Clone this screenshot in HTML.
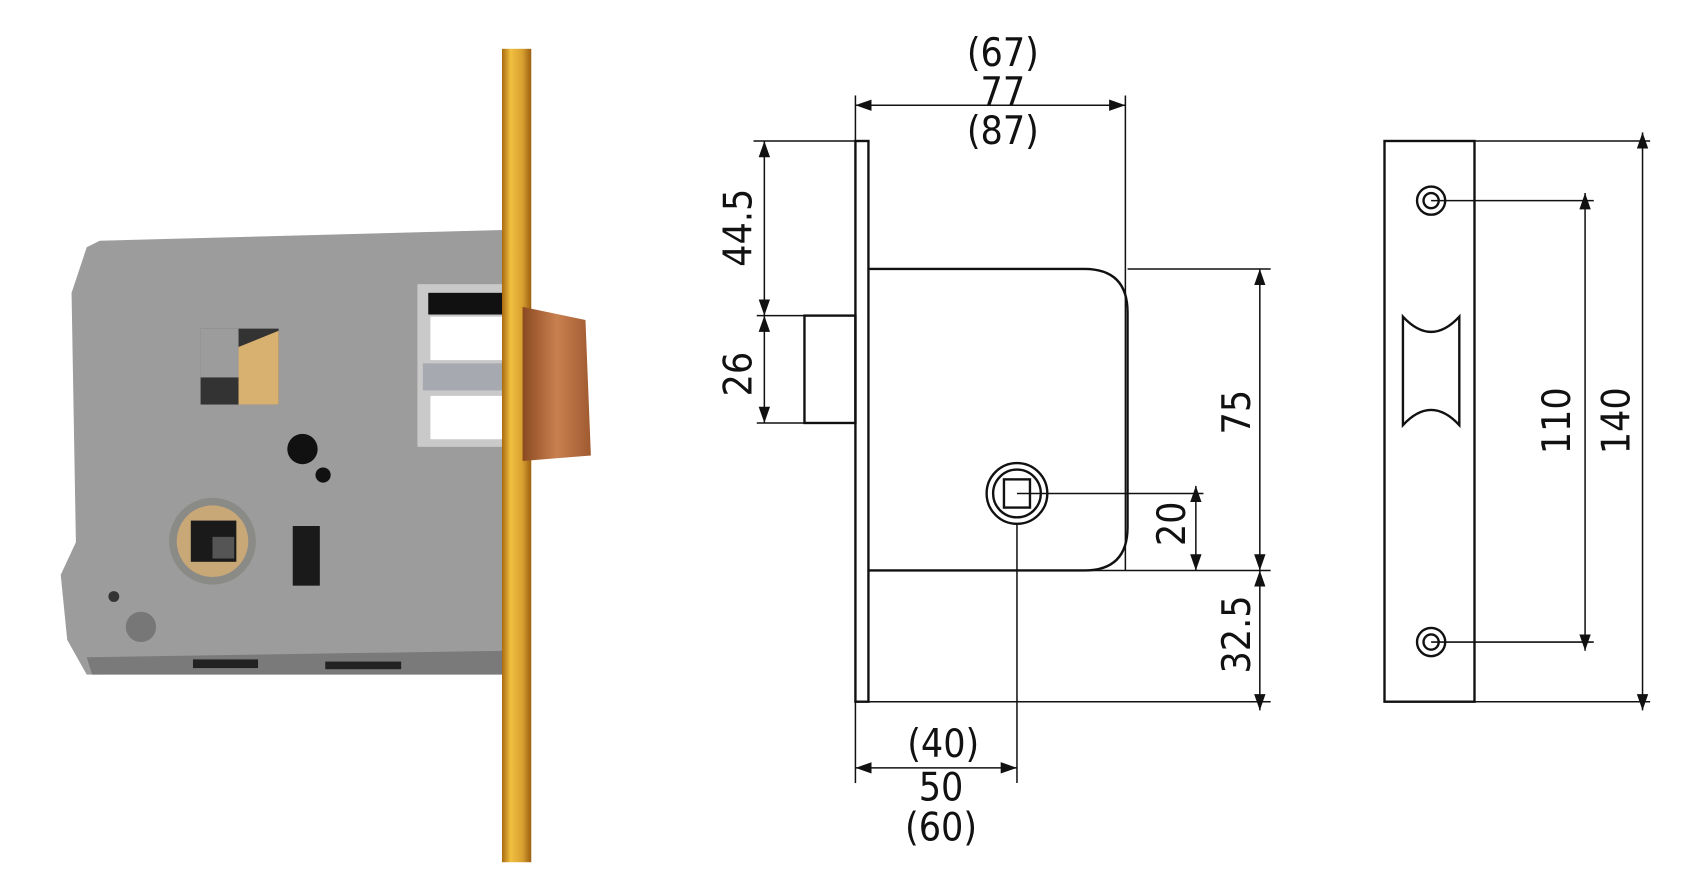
<!DOCTYPE html>
<html><head><meta charset="utf-8"><style>
html,body{margin:0;padding:0;background:#fff;}
svg{display:block;}
text{font-family:"DejaVu Sans Condensed","DejaVu Sans","Liberation Sans",sans-serif;fill:#111;}
</style></head><body>
<svg width="1700" height="885" viewBox="0 0 1568 816" preserveAspectRatio="none" xmlns="http://www.w3.org/2000/svg">
<defs>
<linearGradient id="gold" x1="0" x2="1"><stop offset="0" stop-color="#a86a10"/><stop offset="0.3" stop-color="#f0c040"/><stop offset="0.7" stop-color="#d8a030"/><stop offset="1" stop-color="#9a6010"/></linearGradient>
<linearGradient id="cop" x1="0" x2="1"><stop offset="0" stop-color="#8a4a20"/><stop offset="0.5" stop-color="#c98050"/><stop offset="1" stop-color="#a05a30"/></linearGradient>
<marker id="a" viewBox="0 0 10 10" refX="10" refY="5" markerWidth="15" markerHeight="15" orient="auto-start-reverse" markerUnits="userSpaceOnUse"><path d="M0,1.5 L10,5 L0,8.5 Z" fill="#111"/></marker>
</defs>
<!-- photo -->
<path d="M92,222 L468,212 L468,620 L80,622 L62,590 L56,530 L70,500 L66,270 L80,228 Z" fill="#9c9c9c"/>
<path d="M80,606 L468,600 L468,622 L85,622 Z" fill="#7a7a7a"/>
<rect x="178" y="608" width="60" height="8" fill="#222"/><rect x="300" y="610" width="70" height="7" fill="#222"/>
<rect x="385" y="262" width="83" height="150" fill="#c9c9c9"/>
<rect x="395" y="270" width="73" height="20" fill="#111"/>
<rect x="397" y="292" width="70" height="40" fill="#fff"/>
<rect x="397" y="365" width="70" height="40" fill="#fff"/>
<rect x="390" y="335" width="78" height="25" fill="#a6aab0"/>
<rect x="185" y="303" width="72" height="70" fill="#333"/>
<path d="M220,320 L257,305 L257,373 L220,373 Z" fill="#d8b070"/>
<rect x="185" y="303" width="35" height="45" fill="#9c9c9c"/>
<circle cx="279" cy="414" r="14" fill="#111"/><circle cx="298" cy="438" r="7" fill="#111"/>
<circle cx="196" cy="499" r="40" fill="#8a8a86"/><circle cx="196" cy="499" r="33" fill="#c9a878"/>
<rect x="176" y="480" width="42" height="38" fill="#1a1a1a"/><rect x="196" y="495" width="20" height="20" fill="#555"/>
<rect x="270" y="485" width="25" height="55" fill="#1a1a1a"/>
<circle cx="130" cy="578" r="14" fill="#777"/><circle cx="105" cy="550" r="5" fill="#333"/>
<rect x="463" y="45" width="27" height="750" fill="url(#gold)"/>
<path d="M482,283 L540,295 L545,420 L482,425 Z" fill="url(#cop)"/>
<!-- drawing -->
<g stroke="#111" fill="none" stroke-width="2.2">
<rect x="789" y="130" width="12" height="517"/>
<path d="M801,248 L1000,248 Q1040,248 1040,288 L1040,486 Q1040,526 1000,526 L801,526"/>
<rect x="742" y="291" width="47" height="99"/>
<circle cx="938" cy="455" r="28"/><circle cx="938" cy="455" r="22"/>
<rect x="926" y="442" width="24" height="26"/>
</g>
<g stroke="#111" stroke-width="1.4" fill="none">
<line x1="789" y1="88" x2="789" y2="130"/><line x1="1038" y1="88" x2="1038" y2="526"/>
<line x1="789" y1="97" x2="1038" y2="97" marker-start="url(#a)" marker-end="url(#a)"/>
<line x1="695" y1="130" x2="789" y2="130"/><line x1="698" y1="291" x2="742" y2="291"/><line x1="698" y1="390" x2="742" y2="390"/>
<line x1="705" y1="130" x2="705" y2="291" marker-start="url(#a)" marker-end="url(#a)"/>
<line x1="705" y1="291" x2="705" y2="390" marker-start="url(#a)" marker-end="url(#a)"/>
<line x1="1040" y1="248" x2="1172" y2="248"/><line x1="801" y1="526" x2="1172" y2="526"/><line x1="801" y1="647" x2="1172" y2="647"/>
<line x1="1162" y1="248" x2="1162" y2="526" marker-start="url(#a)" marker-end="url(#a)"/>
<line x1="1162" y1="526" x2="1162" y2="655" marker-start="url(#a)" marker-end="url(#a)"/>
<line x1="938" y1="455" x2="1110" y2="455"/>
<line x1="1103" y1="448" x2="1103" y2="526" marker-start="url(#a)" marker-end="url(#a)"/>
<line x1="789" y1="647" x2="789" y2="722"/><line x1="938" y1="483" x2="938" y2="722"/>
<line x1="789" y1="708" x2="938" y2="708" marker-start="url(#a)" marker-end="url(#a)"/>
</g>
<g font-size="36" text-anchor="middle">
<text x="925" y="61">(67)</text><text x="925" y="97">77</text><text x="925" y="133">(87)</text>
<text x="870" y="698">(40)</text><text x="868" y="738">50</text><text x="868" y="775">(60)</text>
<text transform="translate(693,210) rotate(-90)">44.5</text>
<text transform="translate(693,345) rotate(-90)">26</text>
<text transform="translate(1153,380) rotate(-90)">75</text>
<text transform="translate(1153,585) rotate(-90)">32.5</text>
<text transform="translate(1093,483) rotate(-90)">20</text>
<text transform="translate(1448,388) rotate(-90)">110</text>
<text transform="translate(1503,388) rotate(-90)">140</text>
</g>
<!-- strike -->
<g stroke="#111" fill="none" stroke-width="2.2">
<rect x="1277" y="130" width="83" height="517"/>
<circle cx="1320" cy="185" r="13"/><circle cx="1320" cy="185" r="7"/>
<circle cx="1320" cy="592" r="13"/><circle cx="1320" cy="592" r="7"/>
<path d="M1294,292 Q1320,320 1346,292 L1346,392 Q1320,364 1294,392 Z"/>
</g>
<g stroke="#111" stroke-width="1.4" fill="none">
<line x1="1320" y1="185" x2="1470" y2="185"/><line x1="1320" y1="592" x2="1470" y2="592"/>
<line x1="1462" y1="178" x2="1462" y2="600" marker-start="url(#a)" marker-end="url(#a)"/>
<line x1="1360" y1="130" x2="1522" y2="130"/><line x1="1360" y1="647" x2="1522" y2="647"/>
<line x1="1515" y1="122" x2="1515" y2="655" marker-start="url(#a)" marker-end="url(#a)"/>
</g>
</svg>
</body></html>
